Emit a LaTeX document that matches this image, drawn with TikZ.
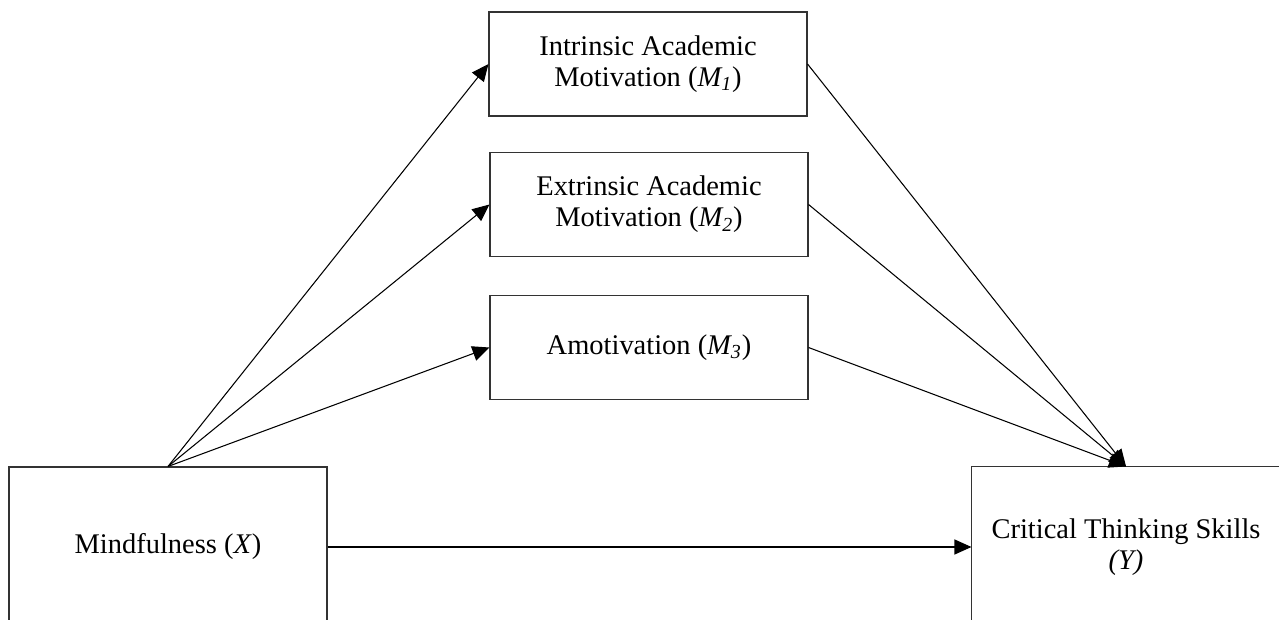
\documentclass[tikz,border=0pt]{standalone}
\usepackage{fontspec}
\setmainfont{Liberation Serif}
\usetikzlibrary{arrows.meta}

\begin{document}
\begin{tikzpicture}[>={Triangle[length=3.4mm,width=3mm]}, line width=0.6pt,
    every node/.style={inner sep=1pt, font=\fontsize{16.2}{17.5}\selectfont},
    var/.style={draw=black!80, align=center, minimum width=6.36cm, minimum height=2.08cm}]
      \useasboundingbox (0,0) rectangle (25.58,12.38);

      \node[var] at (12.96,11.10) (m1) {Intrinsic Academic\\Motivation (\textit{M\textsubscript{1}})};
      \node[var] at (12.98,8.29) (m2) {Extrinsic Academic\\Motivation (\textit{M\textsubscript{2}})};
      \node[var] at (12.98,5.43) (m3) {Amotivation (\textit{M\textsubscript{3}})};

      \node[var, minimum height=3.2cm] at (3.36,1.44) (x) {Mindfulness (\textit{X})};
      % right box runs off the page, so its border is drawn by hand
      \node[var, draw=none, minimum width=6.16cm, minimum height=3.2cm] at (22.52,1.44) (y) {Critical Thinking Skills\\\textit{(Y)}};
      \draw[black!80] (y.south west) -- (y.north west) -- +(6.6,0);

      \foreach \m in {m1, m2, m3} {
        \draw[->] (x.north) -- (\m.west);
        \draw[->] (\m.east) -- (y.north);
      }
      \draw[->] (x) -- (y);
    \end{tikzpicture}
\end{document}
